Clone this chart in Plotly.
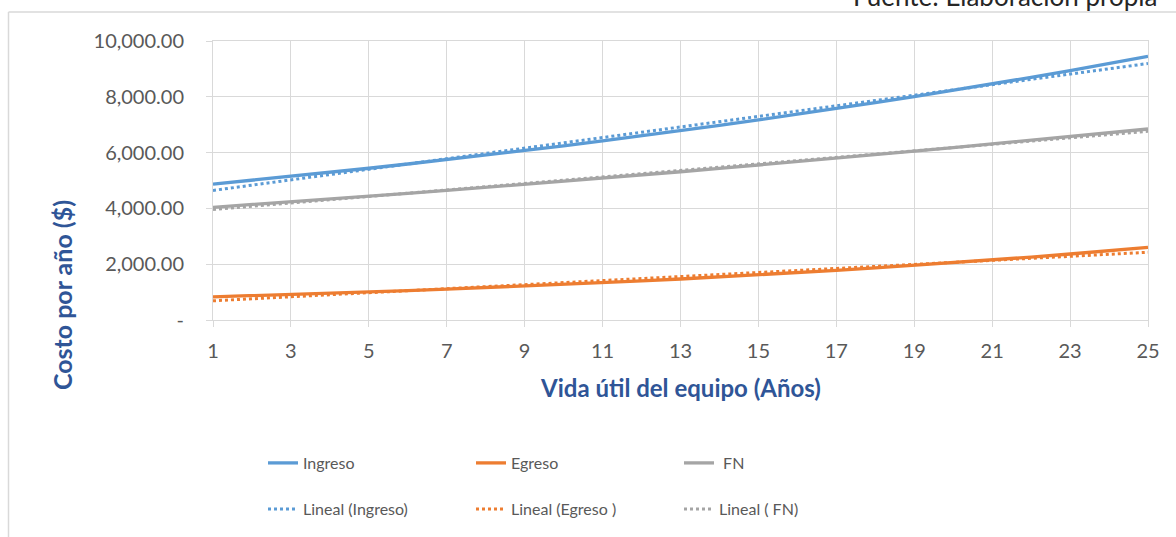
import numpy as np
import plotly.graph_objects as go

years = list(range(1, 26))
ingreso = [4870, 5006, 5146, 5290, 5439, 5591, 5748, 5909, 6074, 6244, 6419, 6599, 6784,
           6974, 7169, 7370, 7576, 7788, 8006, 8230, 8461, 8698, 8941, 9192, 9449]
egreso = [830, 870, 913, 957, 1004, 1053, 1104, 1158, 1215, 1274, 1336, 1401, 1470,
          1541, 1617, 1695, 1778, 1865, 1956, 2051, 2151, 2256, 2366, 2482, 2603]
fn = [4040, 4136, 4233, 4333, 4435, 4538, 4644, 4751, 4859, 4970, 5083, 5198, 5314,
      5433, 5552, 5675, 5798, 5923, 6050, 6179, 6310, 6442, 6575, 6710, 6846]

y_tickvals = [0, 2000, 4000, 6000, 8000, 10000]
y_ticktext = ["-", "2,000.00", "4,000.00", "6,000.00", "8,000.00", "10,000.00"]

series = [("Ingreso", ingreso, "#5B9BD5", "Lineal (Ingreso)"),
          ("Egreso", egreso, "#ED7D31", "Lineal (Egreso )"),
          (" FN", fn, "#A5A5A5", "Lineal ( FN)")]

FONT = "Lato"
fig = go.Figure()
for name, vals, col, tname in series:
    fig.add_trace(go.Scatter(x=years, y=vals, mode="lines", name=name,
                             line=dict(color=col, width=3.3), legend="legend"))
x = np.array(years, dtype=float)
for name, vals, col, tname in series:
    m, b = np.polyfit(x, np.array(vals, dtype=float), 1)
    fig.add_trace(go.Scatter(x=years, y=(m * x + b).tolist(), mode="lines", name=tname,
                             line=dict(color=col, width=3, dash="dot"), legend="legend2"))

def px_x(p):
    return (p - 213) / 935.0

def px_y(p):
    return (321 - p) / 280.0

fig.update_layout(
    width=1176, height=537,
    margin=dict(l=213, r=28, t=41, b=216),
    paper_bgcolor="white", plot_bgcolor="white",
    font=dict(family=FONT, color="#595959"),
    xaxis=dict(range=[1, 25], tick0=1, dtick=2, showgrid=True, gridcolor="#d9d9d9", gridwidth=1,
               showline=True, linecolor="#d9d9d9", linewidth=1, mirror=True,
               ticks="outside", ticklen=6, tickcolor="#d9d9d9", ticklabelstandoff=7,
               tickfont=dict(size=20, color="#595959", family=FONT), zeroline=False),
    yaxis=dict(range=[0, 10000], tickvals=y_tickvals, ticktext=y_ticktext,
               showgrid=True, gridcolor="#d9d9d9", gridwidth=1,
               showline=True, linecolor="#d9d9d9", linewidth=1, mirror=True,
               ticks="outside", ticklen=6, tickcolor="#d9d9d9", ticklabelstandoff=18,
               tickfont=dict(size=20, color="#595959", family=FONT), zeroline=False),
    legend=dict(orientation="h", x=px_x(263), y=px_y(463), xanchor="left", yanchor="middle",
                entrywidth=163, entrywidthmode="pixels", font=dict(size=16, color="#595959", family=FONT),
                bgcolor="rgba(0,0,0,0)"),
    legend2=dict(orientation="h", x=px_x(263), y=px_y(509), xanchor="left", yanchor="middle",
                 entrywidth=163, entrywidthmode="pixels", font=dict(size=16, color="#595959", family=FONT),
                 bgcolor="rgba(0,0,0,0)"),
    showlegend=True,
)

fig.add_annotation(text="<b>Vida útil del equipo (Años)</b>", xref="paper", yref="paper",
                   x=px_x(680), y=px_y(389), xanchor="center", yanchor="middle", showarrow=False,
                   font=dict(size=24, color="#2F5597", family=FONT))
fig.add_annotation(text="<b>Costo por año ($)</b>", xref="paper", yref="paper", textangle=-90,
                   x=px_x(62), y=px_y(296), xanchor="center", yanchor="middle", showarrow=False,
                   font=dict(size=25, color="#2F5597", family=FONT))
fig.add_annotation(text="Fuente: Elaboración propia", xref="paper", yref="paper",
                   x=px_x(1159), y=px_y(14), xanchor="right", yanchor="bottom", showarrow=False,
                   font=dict(size=26, color="#262626", family=FONT))

fig.add_shape(type="line", xref="paper", yref="paper", x0=px_x(8.5), x1=px_x(8.5),
              y0=px_y(12), y1=px_y(545), line=dict(color="#d9d9d9", width=1.5))
fig.add_shape(type="line", xref="paper", yref="paper", x0=px_x(8.5), x1=px_x(1190),
              y0=px_y(12), y1=px_y(12), line=dict(color="#d9d9d9", width=1.5))

fig.write_html("out.html", config={"displayModeBar": False},
               post_script="document.body.style.margin='0';")
